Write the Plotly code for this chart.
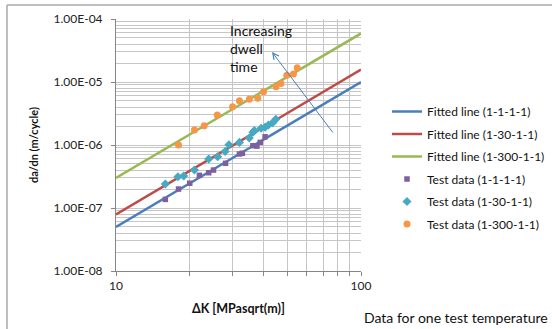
import plotly.graph_objects as go

# ---------------- data ----------------
fit_x = [10, 100]
fit_1_1 = [5.0e-8, 1.0e-5]
fit_1_30 = [7.9e-8, 1.57e-5]
fit_1_300 = [3.0e-7, 5.9e-5]

dk_1_1 = [15.9, 18.0, 20.0, 21.9, 23.9, 25.0, 28.0, 31.9, 32.8, 36.2, 37.6, 38.8, 40.6]
da_1_1 = [1.37e-7, 2.0e-7, 2.47e-7, 3.3e-7, 3.63e-7, 4.0e-7, 5.12e-7, 7.2e-7, 7.4e-7,
          9.75e-7, 9.6e-7, 1.10e-6, 1.35e-6]

dk_1_30 = [15.9, 17.9, 18.9, 20.9, 23.9, 26.0, 27.9, 28.9, 31.9, 35.0, 36.2, 36.7, 39.1,
           40.6, 41.9, 43.6, 44.9]
da_1_30 = [2.40e-7, 3.14e-7, 3.22e-7, 4.0e-7, 6.0e-7, 6.5e-7, 7.9e-7, 1.01e-6, 1.10e-6,
           1.29e-6, 1.59e-6, 1.69e-6, 1.84e-6, 1.91e-6, 2.08e-6, 2.26e-6, 2.56e-6]

dk_1_300 = [18.0, 20.9, 22.9, 25.9, 29.9, 31.9, 35.0, 37.9, 40.0, 45.0, 47.1, 49.8, 53.0, 54.9]
da_1_300 = [1.0e-6, 1.73e-6, 2.03e-6, 2.99e-6, 4.06e-6, 5.05e-6, 5.31e-6, 5.51e-6, 7.0e-6,
            8.4e-6, 9.5e-6, 1.28e-5, 1.34e-5, 1.69e-5]

y_major = [1e-8, 1e-7, 1e-6, 1e-5, 1e-4]
y_major_text = ["1.00E-08", "1.00E-07", "1.00E-06", "1.00E-05", "1.00E-04"]
x_major = [10, 100]
x_major_text = ["10", "100"]

# ---------------- layout helpers ----------------
W, H = 552, 329
L, R, T, B = 116, 191, 19, 58
PW, PH = W - L - R, H - T - B


def px(xp):
    return (xp - L) / PW


def py(yp):
    return (H - B - yp) / PH


FONT = "Lato, 'Open Sans', sans-serif"
blue, red, green = "#4a7ebb", "#be4b48", "#98b954"
purple, cyan, orange = "#7d60a0", "#46aac5", "#f79646"

y_minor = [m * 10.0 ** e for e in range(-8, -4) for m in range(2, 10)]
x_minor = [m * 10 for m in range(2, 10)]

fig = go.Figure()
fig.add_trace(go.Scatter(x=fit_x, y=fit_1_1, mode="lines", name="Fitted line (1-1-1-1)",
                         line=dict(color=blue, width=2.5), legendgroup="a"))
fig.add_trace(go.Scatter(x=fit_x, y=fit_1_30, mode="lines", name="Fitted line (1-30-1-1)",
                         line=dict(color=red, width=2.5), legendgroup="b"))
fig.add_trace(go.Scatter(x=fit_x, y=fit_1_300, mode="lines", name="Fitted line (1-300-1-1)",
                         line=dict(color=green, width=2.5), legendgroup="c"))
fig.add_trace(go.Scatter(x=dk_1_1, y=da_1_1, mode="markers", name="Test data (1-1-1-1)",
                         marker=dict(symbol="square", size=5.5, color=purple), legendgroup="d"))
fig.add_trace(go.Scatter(x=dk_1_30, y=da_1_30, mode="markers", name="Test data (1-30-1-1)",
                         marker=dict(symbol="diamond", size=7, color=cyan), legendgroup="e"))
fig.add_trace(go.Scatter(x=dk_1_300, y=da_1_300, mode="markers", name="Test data (1-300-1-1)",
                         marker=dict(symbol="circle", size=7, color=orange), legendgroup="f"))

grid = "#c6c6c6"
fig.update_xaxes(type="log", range=[1, 2], tickvals=x_major, ticktext=x_major_text,
                 showgrid=True, gridcolor=grid, gridwidth=1,
                 showline=True, linecolor="#868686", linewidth=1,
                 ticks="outside", ticklen=4, tickcolor="#868686",
                 minor=dict(tickvals=x_minor, showgrid=True, gridcolor=grid, ticks="outside",
                            ticklen=4, tickcolor="#868686"),
                 tickfont=dict(family=FONT, size=12, color="#222"), zeroline=False)
fig.update_yaxes(type="log", range=[-8, -4], tickvals=y_major, ticktext=y_major_text,
                 showgrid=True, gridcolor=grid, gridwidth=1,
                 showline=True, linecolor="#868686", linewidth=1,
                 ticks="outside", ticklen=4, tickcolor="#868686",
                 ticklabelstandoff=6,
                 minor=dict(tickvals=y_minor, showgrid=True, gridcolor=grid),
                 tickfont=dict(family=FONT, size=12, color="#222"), zeroline=False)

annotations = [
    dict(text="<b>da/dn (m/cycle)</b>", x=px(33), y=py(145), xref="paper", yref="paper",
         textangle=-90, showarrow=False, font=dict(family=FONT, size=11, color="#111"),
         xanchor="center", yanchor="middle"),
    dict(text="<b>ΔK [MPasqrt(m)]</b>", x=px(238), y=py(308), xref="paper", yref="paper",
         showarrow=False, font=dict(family=FONT, size=12.5, color="#111"),
         xanchor="center", yanchor="middle"),
    dict(text="Data for one test temperature", x=px(362), y=py(317), xref="paper", yref="paper",
         showarrow=False, font=dict(family=FONT, size=14, color="#111"),
         xanchor="left", yanchor="middle"),
    dict(text="Increasing<br>dwell<br>time", x=px(228), y=py(48), xref="paper", yref="paper",
         showarrow=False, align="left", font=dict(family=FONT, size=14, color="#111"),
         xanchor="left", yanchor="middle"),
    dict(text="", x=px(272), y=py(52), xref="paper", yref="paper",
         ax=62, ay=82, showarrow=True, arrowhead=5, arrowsize=1.2, arrowwidth=1,
         arrowcolor=blue),
]

shapes = [
    dict(type="line", xref="paper", yref="paper", x0=px(7), x1=px(552), y0=py(5), y1=py(5),
         line=dict(color="#a8a8a8", width=1.5)),
    dict(type="line", xref="paper", yref="paper", x0=px(7), x1=px(7), y0=py(5), y1=py(329),
         line=dict(color="#a8a8a8", width=1.5)),
]

fig.update_layout(
    width=W, height=H, margin=dict(l=L, r=R, t=T, b=B, autoexpand=False),
    paper_bgcolor="white", plot_bgcolor="white",
    showlegend=True,
    legend=dict(x=px(387), y=py(97), xanchor="left", yanchor="top",
                font=dict(family=FONT, size=12, color="#111"),
                tracegroupgap=3.5, bgcolor="rgba(0,0,0,0)", itemwidth=30),
    annotations=annotations, shapes=shapes,
)

fig.write_html("out.html")
